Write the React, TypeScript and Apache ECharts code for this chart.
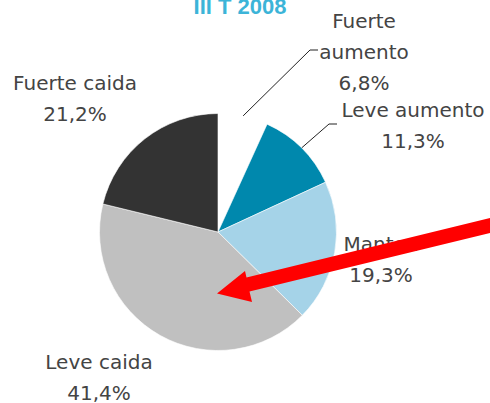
import React, { useEffect, useRef } from "react";
import * as echarts from "echarts";

const titleText = "III T 2008";
const categories = ["Fuerte\naumento", "Leve aumento", "Manten", "Leve caida", "Fuerte caida"];
const values = [6.8, 11.3, 19.3, 41.4, 21.2];
const colors = ["#ffffff", "#0088ad", "#a5d3e8", "#c0c0c0", "#333333"];
const labelPos: [number, number][] = [
  [364, 52],
  [413, 125],
  [381, 259],
  [99, 377],
  [75, 98],
];

export default function App() {
  const ref = useRef<HTMLDivElement>(null);
  useEffect(() => {
    if (!ref.current) return;
    const chart = echarts.init(ref.current, undefined, { renderer: "svg" });
    chart.setOption({
      animation: false,
      backgroundColor: "#ffffff",
      title: {
        text: titleText,
        left: 235,
        top: -10,
        textAlign: "center",
        textStyle: {
          fontFamily: "Liberation Sans",
          fontWeight: "bold",
          fontSize: 22,
          color: "#3cb4d8",
        },
      },
      series: [
        {
          type: "pie",
          center: [218, 232],
          radius: 118.5,
          startAngle: 90,
          clockwise: true,
          avoidLabelOverlap: false,
          itemStyle: { borderColor: "#ffffff", borderWidth: 0.6 },
          label: {
            show: true,
            position: "outside",
            fontFamily: "DejaVu Sans",
            fontSize: 20,
            lineHeight: 31,
            color: "#444444",
            align: "center",
            formatter: (p: any) => `${p.name}\n${String(p.value).replace(".", ",")}%`,
          },
          labelLine: { show: false },
          labelLayout: (p: any) => ({
            x: labelPos[p.dataIndex][0],
            y: labelPos[p.dataIndex][1],
            align: "center",
            verticalAlign: "middle",
          }),
          emphasis: { disabled: true },
          data: categories.map((c, i) => ({
            name: c,
            value: values[i],
            itemStyle: { color: colors[i] },
          })),
        },
      ],
      graphic: [
        {
          type: "polyline",
          shape: { points: [[243, 116], [310, 50], [318, 50]] },
          style: { stroke: "#222", lineWidth: 1, fill: null },
        },
        {
          type: "polyline",
          shape: { points: [[301.5, 148], [329, 124], [337, 124]] },
          style: { stroke: "#222", lineWidth: 1, fill: null },
        },
        {
          type: "polygon",
          z: 100,
          shape: {
            points: [
              [217, 293.5],
              [245, 271],
              [246.5, 277.5],
              [492, 217.5],
              [492, 232.5],
              [249.5, 291.5],
              [252, 302],
            ],
          },
          style: { fill: "#ff0000" },
        },
      ],
    });
    return () => chart.dispose();
  }, []);
  return (
    <div
      ref={ref}
      style={{ position: "fixed", left: 0, top: 0, width: 490, height: 403 }}
    />
  );
}
